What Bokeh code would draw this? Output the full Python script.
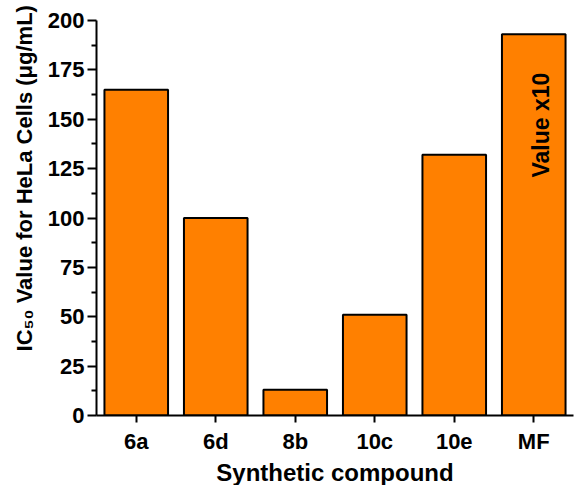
import math
from bokeh.plotting import figure
from bokeh.models import ColumnDataSource, FactorRange, Range1d, FixedTicker, Title
from bokeh.core.properties import value
from bokeh.embed import file_html
from bokeh.resources import INLINE

compounds = ["6a", "6d", "8b", "10c", "10e", "MF"]
ic50 = [165, 100, 13, 51, 132, 193]
y_ticks = [0, 25, 50, 75, 100, 125, 150, 175, 200]

FONT = "Liberation Sans"
BAR = "#FF8000"

src = ColumnDataSource(dict(x=compounds, top=ic50))

p = figure(x_range=FactorRange(factors=compounds, range_padding=0),
           y_range=Range1d(0, 200),
           width=574, height=485, output_backend="svg", toolbar_location=None,
           min_border_left=96, min_border_right=1, min_border_top=20, min_border_bottom=0)

p.vbar(x="x", top="top", width=0.8, source=src, fill_color=BAR,
       line_color="black", line_width=2)

p.xgrid.visible = False
p.ygrid.visible = False
p.outline_line_color = None

# y axis
ya = p.yaxis[0]
ya.ticker = FixedTicker(ticks=y_ticks, minor_ticks=[v + 12.5 for v in y_ticks[:-1]])
ya.axis_line_width = 2
ya.major_tick_line_width = 2
ya.minor_tick_line_width = 2
ya.major_tick_out = 9
ya.major_tick_in = 0
ya.minor_tick_out = 5
ya.minor_tick_in = 0
ya.major_label_text_font = FONT
ya.major_label_text_font_style = "bold"
ya.major_label_text_font_size = "22px"
ya.major_label_text_color = "black"
ya.major_label_standoff = 3
# leading no-break spaces lift the centred title towards the top, as in the reference
ya.axis_label = "\u00a0" * 13 + "IC₅₀ Value for HeLa Cells (μg/mL)"
ya.axis_label_text_font = FONT
ya.axis_label_text_font_style = "bold"
ya.axis_label_text_font_size = "22px"
ya.axis_label_text_color = "black"
ya.axis_label_standoff = 8

# x axis
xa = p.xaxis[0]
xa.axis_line_width = 2
xa.major_tick_line_width = 2
xa.major_tick_out = 7
xa.major_tick_in = 0
xa.major_label_text_font = FONT
xa.major_label_text_font_style = "bold"
xa.major_label_text_font_size = "22px"
xa.major_label_text_color = "black"
xa.major_label_standoff = 6

# x axis title as a below-panel title (tighter than an axis label)
p.add_layout(Title(text="Synthetic compound", align="center", text_font=FONT,
                   text_font_style="bold", text_font_size="24px", text_color="black",
                   standoff=0, offset=0), "below")

# note inside MF bar
note = ColumnDataSource(dict(x=["MF"], y=[147], t=["Value x10"]))
p.text(x="x", y="y", text="t", source=note, angle=math.pi / 2,
       text_font=value(FONT), text_font_style="bold", text_font_size="23px",
       text_color="black", text_align="center", text_baseline="middle", x_offset=7)

open("out.html", "w").write(file_html(p, INLINE))
